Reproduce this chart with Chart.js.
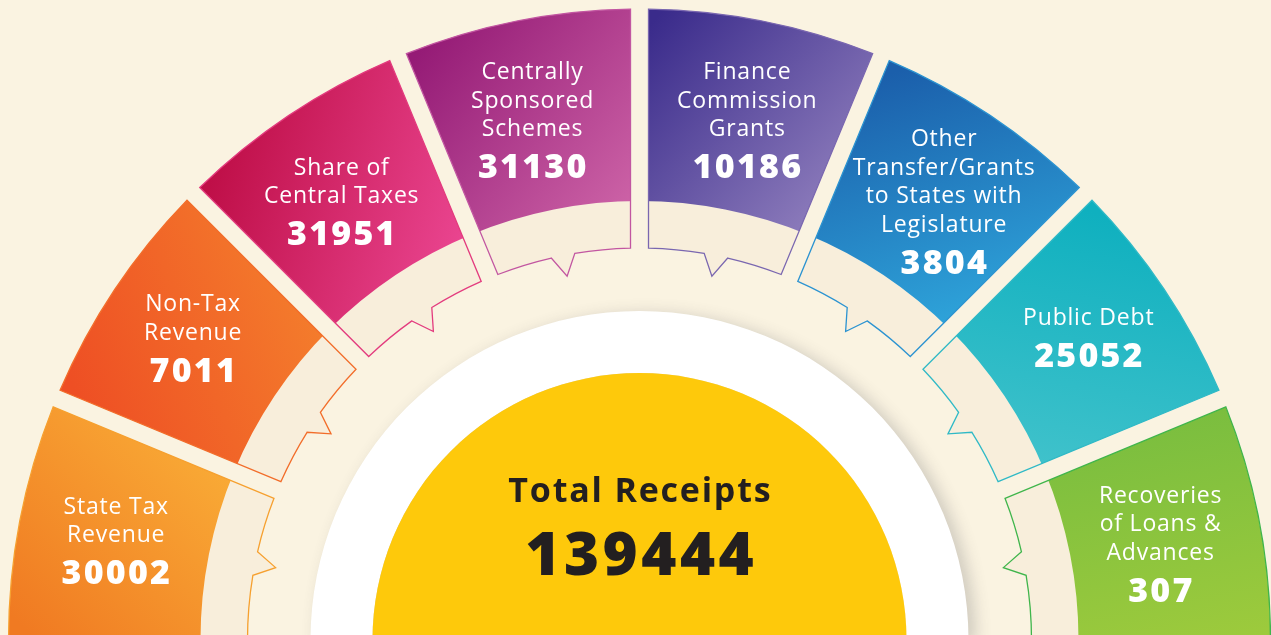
<!DOCTYPE html>
<html>
<head>
<meta charset="utf-8">
<title>Total Receipts</title>
<script src="https://cdn.jsdelivr.net/npm/chart.js@4.4.0/dist/chart.umd.min.js"></script>
<style>
  html, body { margin: 0; padding: 0; background: #faf3e1; overflow: hidden; }
  #wrap { position: relative; width: 1271px; height: 649px; }
</style>
</head>
<body>
<div id="wrap"><canvas id="receiptsChart"></canvas></div>
<script>
// ---- data ----
const segmentNames = [
    'State Tax Revenue', 'Non-Tax Revenue', 'Share of Central Taxes', 'Centrally Sponsored Schemes',
    'Finance Commission Grants', 'Other Transfer/Grants to States with Legislature', 'Public Debt',
    'Recoveries of Loans & Advances'
];
const segmentLines = [
    ['State Tax', 'Revenue'],
    ['Non-Tax', 'Revenue'],
    ['Share of', 'Central Taxes'],
    ['Centrally', 'Sponsored', 'Schemes'],
    ['Finance', 'Commission', 'Grants'],
    ['Other', 'Transfer/Grants', 'to States with', 'Legislature'],
    ['Public Debt'],
    ['Recoveries', 'of Loans &', 'Advances']
];
const segmentValues = [30002, 7011, 31951, 31130, 10186, 3804, 25052, 307];
// every segment gets the same angle in the picture
const segmentSlots = [1, 1, 1, 1, 1, 1, 1, 1];
const totalLabel = 'Total Receipts';
const totalValue = 139444;

// ---- styling ----
const PAGE_BG = '#faf3e1';
const RING_FILL = '#f8eedb';
const gradFrom = ['#f07a22', '#ee4f24', '#bf0f48', '#951b76', '#3a2b8b', '#1b5fab', '#0fb0bf', '#78bd3f'];
const gradTo   = ['#f9ab36', '#f47d2c', '#ea4590', '#cc62a6', '#8e7dbc', '#2ea4da', '#40c2cb', '#9fcb3c'];
const gradDir  = [[1, -1], [1, -0.4], [1, 0.3], [1, 0.8], [1, 0.9], [0.3, 1], [-0.2, 1], [0.2, 1]];
const outlineColors = ['#f6a02f', '#f26d2a', '#e33b7e', '#c256a1', '#7a67b0', '#2b93d1', '#2fb9c6', '#3fb54b'];
// small nudges so each text block sits where it does in the original
const labelNudge = [[1, 3.5], [-2, -6.5], [-1, 5], [-3, 3.5], [3, 3.5], [7, 5], [4, -7], [-4, 6.5]];

const GAP = 18;          // width of the straight gaps between segments
const NOTCH_HALF = 12;   // half width of the little tail, px
const NOTCH_DEPTH = 21;
const LABEL_R = 535;
const LINE_H = 28.5;
const NUM_GAP = 38;

function segmentGradient(c) {
    const chart = c.chart;
    const area = chart.chartArea;
    const i = c.dataIndex;
    if (!area) return gradFrom[i];
    const ctrl = chart.getDatasetMeta(0).controller;
    const cx = (area.left + area.right) / 2 + (ctrl.offsetX || 0);
    const cy = (area.top + area.bottom) / 2 + (ctrl.offsetY || 0);
    const total = segmentSlots.reduce((a, b) => a + b, 0);
    const before = segmentSlots.slice(0, i).reduce((a, b) => a + b, 0);
    const mid = -Math.PI + Math.PI * (before + segmentSlots[i] / 2) / total;
    const px = cx + Math.cos(mid) * LABEL_R;
    const py = cy + Math.sin(mid) * LABEL_R;
    const [dx, dy] = gradDir[i];
    const len = Math.hypot(dx, dy);
    const L = 130;
    const g = chart.ctx.createLinearGradient(px - dx / len * L, py - dy / len * L, px + dx / len * L, py + dy / len * L);
    g.addColorStop(0, gradFrom[i]);
    g.addColorStop(1, gradTo[i]);
    return g;
}

const segmentDecor = {
    id: 'segmentDecor',
    beforeDatasetDraw(chart, args) {
        // soft shadow under the white ring
        if (args.index === 3) {
            const c = chart.ctx;
            c.save();
            c.shadowColor = 'rgba(70, 70, 80, 0.24)';
            c.shadowBlur = 16;
            c.shadowOffsetX = 7;
            c.shadowOffsetY = 3;
        }
    },
    afterDatasetDraw(chart, args) {
        if (args.index === 3) chart.ctx.restore();
    },
    afterDatasetsDraw(chart) {
        const c = chart.ctx;
        const outer = chart.getDatasetMeta(0).data;
        const ring = chart.getDatasetMeta(1).data;
        const n = outer.length;
        const cx = outer[0].x, cy = outer[0].y;
        const pt = (r, a) => [cx + Math.cos(a) * r, cy + Math.sin(a) * r];

        c.save();
        // straight gaps between neighbours
        c.strokeStyle = PAGE_BG;
        c.lineWidth = GAP;
        for (let i = 0; i < n - 1; i++) {
            const a = outer[i].endAngle;
            c.beginPath();
            c.moveTo(...pt(355, a));
            c.lineTo(...pt(680, a));
            c.stroke();
        }

        // thin outline with a small tail pointing at the centre
        for (let i = 0; i < n; i++) {
            const ro = outer[i].outerRadius;
            const ri = ring[i].innerRadius;
            const gs = i === 0 ? 0 : GAP / 2;
            const ge = i === n - 1 ? 0 : GAP / 2;
            const a0 = outer[i].startAngle, a1 = outer[i].endAngle;
            const mid = (a0 + a1) / 2;
            const nh = NOTCH_HALF / ri;

            c.beginPath();
            c.moveTo(...pt(ri + 2, mid + nh));
            c.lineTo(...pt(ri - NOTCH_DEPTH, mid));
            c.lineTo(...pt(ri + 2, mid - nh));
            c.closePath();
            c.fillStyle = RING_FILL;
            c.fill();

            c.beginPath();
            c.arc(cx, cy, ro, a0 + Math.asin(gs / ro), a1 - Math.asin(ge / ro));
            c.lineTo(...pt(ri, a1 - Math.asin(ge / ri)));
            c.arc(cx, cy, ri, a1 - Math.asin(ge / ri), mid + nh, true);
            c.lineTo(...pt(ri - NOTCH_DEPTH, mid));
            c.lineTo(...pt(ri, mid - nh));
            c.arc(cx, cy, ri, mid - nh, a0 + Math.asin(gs / ri), true);
            c.closePath();
            c.strokeStyle = outlineColors[i];
            c.lineWidth = 1.3;
            c.stroke();
        }

        // segment labels
        c.textAlign = 'center';
        c.textBaseline = 'alphabetic';
        c.fillStyle = '#ffffff';
        for (let i = 0; i < n; i++) {
            const mid = (outer[i].startAngle + outer[i].endAngle) / 2;
            const ax = cx + Math.cos(mid) * LABEL_R + labelNudge[i][0];
            const ay = cy + Math.sin(mid) * LABEL_R + labelNudge[i][1];
            const lines = segmentLines[i];
            const span = (lines.length - 1) * LINE_H + NUM_GAP;
            const y = ay - span / 2;
            c.font = '400 23px "Open Sans", "Noto Sans", sans-serif';
            c.letterSpacing = '0.8px';
            lines.forEach((line, k) => {
                c.fillText(line, ax + 0.4, y + k * LINE_H + 8);
            });
            const ny = y + (lines.length - 1) * LINE_H + NUM_GAP;
            c.font = '800 34px "Open Sans", "Noto Sans", sans-serif';
            c.letterSpacing = '2.2px';
            c.fillText(String(segmentValues[i]), ax + 1.1, ny + 12);
        }

        // centre text
        c.fillStyle = '#231f20';
        c.font = '700 34px "Open Sans", "Noto Sans", sans-serif';
        c.letterSpacing = '1.8px';
        c.fillText(totalLabel, cx + 0.9, cy - 138.5);
        c.font = '800 60px "Open Sans", "Noto Sans", sans-serif';
        c.letterSpacing = '3.5px';
        c.fillText(String(totalValue), cx + 1.75, cy - 65);
        c.letterSpacing = '0px';
        c.restore();
    }
};

new Chart(document.getElementById('receiptsChart'), {
    type: 'doughnut',
    data: {
        labels: segmentNames,
        datasets: [
            { data: segmentSlots, backgroundColor: segmentGradient, weight: 192 },
            { data: segmentSlots, backgroundColor: RING_FILL, weight: 47 },
            { data: [1], backgroundColor: 'rgba(0,0,0,0)', weight: 63 },
            { data: [1], backgroundColor: '#ffffff', weight: 62 },
            { data: [1], backgroundColor: '#fec90b', weight: 267, order: -1 }
        ]
    },
    options: {
        responsive: true,
        maintainAspectRatio: false,
        animation: false,
        events: [],
        rotation: -90,
        circumference: 180,
        radius: 631,
        cutout: 0,
        layout: { padding: { left: 8 } },
        elements: { arc: { borderWidth: 0 } },
        plugins: {
            legend: { display: false },
            tooltip: { enabled: false }
        }
    },
    plugins: [segmentDecor]
});
</script>
</body>
</html>
